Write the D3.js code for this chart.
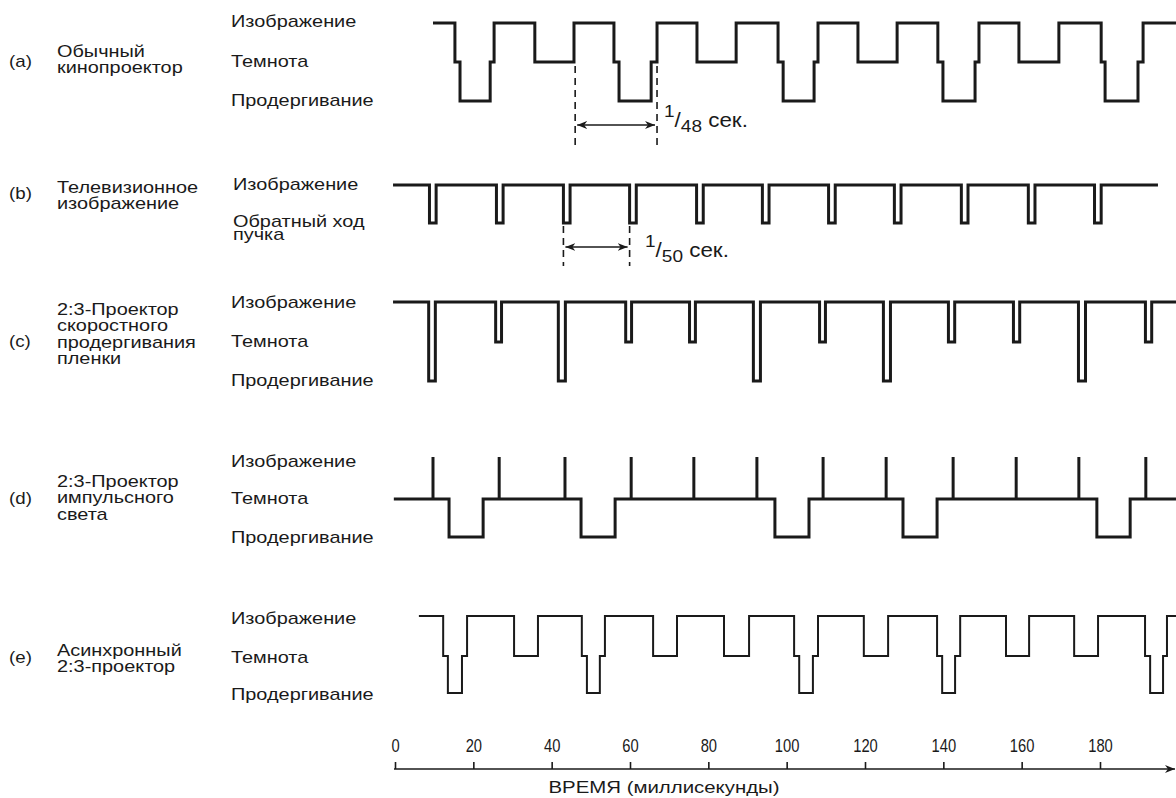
<!DOCTYPE html>
<html><head><meta charset="utf-8">
<script src="https://cdn.jsdelivr.net/npm/d3@7"></script>
<style>
body{margin:0;background:#fff}
text{font-family:"Liberation Sans",Arial,Helvetica,sans-serif;fill:#1a1a1a}
</style>
</head><body>
<svg id="c" width="1176" height="798"></svg>
<script>
// ---------- DATA ----------
const tickValues = [0, 20, 40, 60, 80, 100, 120, 140, 160, 180];
const axisTitle = "ВРЕМЯ (миллисекунды)";
const rowIds = ["(a)", "(b)", "(c)", "(d)", "(e)"];
const rowTitles = [
  ["Обычный", "кинопроектор"],
  ["Телевизионное", "изображение"],
  ["2:3-Проектор", "скоростного", "продергивания", "пленки"],
  ["2:3-Проектор", "импульсного", "света"],
  ["Асинхронный", "2:3-проектор"]
];
const levelNames = [
  ["Продергивание", "Темнота", "Изображение"],
  ["Обратный ход|пучка", "Изображение"],
  ["Продергивание", "Темнота", "Изображение"],
  ["Продергивание", "Темнота", "Изображение"],
  ["Продергивание", "Темнота", "Изображение"]
];
// level codes: 0 = Продергивание / Обратный ход, 1 = Темнота, 2 = Изображение
// (a) conventional projector: change times (ms) and the level held from that time
const aTimes  = [9.7, 15.3, 16.6, 24.3, 25.3, 35.7, 45.7, 55.9, 57.2, 65.4, 66.9, 77.1, 87.1, 97.8, 99.1, 107.0, 108.0, 118.2, 128.2, 138.6, 139.9, 148.1, 149.1, 159.3, 169.5, 180.3, 181.3, 189.7, 191.0, 199.4];
const aLevels = [2, 1, 0, 1, 2, 1, 2, 1, 0, 1, 2, 1, 2, 1, 0, 1, 2, 1, 2, 1, 0, 1, 2, 1, 2, 1, 0, 1, 2, 2];
// (b) television: retrace pulses [start, end] (ms)
const bStart = -0.5, bEnd = 194.8;
const bPulses = [[8.8, 10.5], [25.9, 27.6], [43.0, 44.7], [59.9, 61.6], [77.0, 78.7], [93.8, 95.5], [110.7, 112.4], [127.5, 129.2], [144.6, 146.3], [161.7, 163.4], [178.6, 180.3]];
// (c) 2:3 fast pull-down projector: [start, end, level reached]
const cStart = -0.5, cEnd = 199.4;
const cPulses = [[8.6, 10.3, 0], [25.7, 27.2, 1], [41.7, 43.5, 0], [58.9, 60.4, 1], [75.2, 76.7, 1], [91.5, 93.3, 0], [108.4, 109.9, 1], [124.7, 126.5, 0], [141.3, 142.9, 1], [157.9, 159.5, 1], [174.5, 176.3, 0], [191.6, 193.2, 1]];
// (d) 2:3 pulsed-light projector
const dTimes  = [-0.3, 13.8, 22.5, 47.5, 56.2, 97.0, 105.7, 129.7, 138.4, 179.2, 187.7, 199.4];
const dLevels = [1, 0, 1, 0, 1, 0, 1, 0, 1, 0, 1, 1];
const dFlashes = [9.7, 26.6, 43.4, 60.3, 76.3, 92.4, 109.3, 125.4, 142.5, 158.6, 174.6, 191.7];
// (e) asynchronous 2:3 projector
const eTimes  = [6.1, 12.3, 13.5, 17.1, 18.4, 30.4, 36.5, 47.7, 49.0, 52.3, 53.6, 65.9, 72.0, 84.0, 90.4, 101.9, 103.2, 106.7, 108.0, 119.7, 125.9, 138.4, 139.7, 143.0, 144.3, 156.0, 161.9, 173.4, 179.5, 191.5, 192.8, 196.1, 197.1, 199.4];
const eLevels = [2, 1, 0, 1, 2, 1, 2, 1, 0, 1, 2, 1, 2, 1, 2, 1, 0, 1, 2, 1, 2, 1, 0, 1, 2, 1, 2, 1, 2, 1, 0, 1, 2, 2];
// period annotations
const period48 = {from: 46.0, to: 66.9, label: ["1", "48", " сек."]};
const period50 = {from: 43.0, to: 59.9, label: ["1", "50", " сек."]};

// ---------- LAYOUT ----------
const ink = "#1a1a1a";
const svg = d3.select("#c");
const x = d3.scaleLinear().domain([0, 180]).range([395, 1100]);
const rowY = [[101, 62, 23], [223, 185], [381, 342, 302], [537, 499, 457], [693, 656, 616]];
const rowIdY = [61, 193, 341, 498, 657];
const titleTopY = [51, 187, 309, 481, 650];
const titleStep = 16.4;
const labelY = [[100, 61, 21], [221, 184], [380, 341, 302], [537, 498, 461], [694, 657, 618]];
const FS = 17, SX = 1.17;

function txt(px, py, s, size, sx, anchor) {
  return svg.append("text").attr("transform", `translate(${px},${py}) scale(${sx},1)`)
    .attr("dominant-baseline", "central").attr("text-anchor", anchor || "start")
    .attr("font-size", size).text(s);
}

const defs = svg.append("defs");
defs.append("marker").attr("id", "ah").attr("viewBox", "0 0 10 10").attr("refX", 10).attr("refY", 5)
  .attr("markerWidth", 10).attr("markerHeight", 10).attr("markerUnits", "userSpaceOnUse").attr("orient", "auto-start-reverse")
  .append("path").attr("d", "M0,1 L10,5 L0,9 L3,5 Z").attr("fill", ink);

// ---------- LEFT TEXT ----------
rowIds.forEach((id, i) => {
  txt(9, rowIdY[i], id, 16, SX);
  rowTitles[i].forEach((t, j) => txt(57, titleTopY[i] + j * titleStep, t, FS, SX));
  levelNames[i].forEach((nm, j) => {
    const parts = nm.split("|");
    const lx = i === 1 ? 233 : 231;
    txt(lx, labelY[i][j], parts[0], FS, SX);
    if (parts.length > 1) txt(lx, labelY[i][j] + 13, parts[1], FS, SX);
  });
});

// ---------- WAVEFORMS ----------
const step = d3.line().curve(d3.curveStepAfter);
function drawSteps(times, levels, ys, w) {
  const pts = times.map((t, k) => [x(t), ys[levels[k]]]);
  svg.append("path").attr("d", step(pts)).attr("fill", "none").attr("stroke", ink)
    .attr("stroke-width", w).attr("stroke-linejoin", "miter");
}
function pulsesToSteps(start, end, pulses, top) {
  const t = [start], l = [top];
  pulses.forEach(p => { t.push(p[0]); l.push(p.length > 2 ? p[2] : 0); t.push(p[1]); l.push(top); });
  t.push(end); l.push(top);
  return [t, l];
}
drawSteps(aTimes, aLevels, rowY[0], 3);
{ const [t, l] = pulsesToSteps(bStart, bEnd, bPulses, 1); drawSteps(t, l, rowY[1], 3); }
{ const [t, l] = pulsesToSteps(cStart, cEnd, cPulses, 2); drawSteps(t, l, rowY[2], 3); }
drawSteps(dTimes, dLevels, rowY[3], 3);
svg.append("g").selectAll("line").data(dFlashes).join("line")
  .attr("x1", d => x(d)).attr("x2", d => x(d)).attr("y1", rowY[3][1]).attr("y2", rowY[3][2])
  .attr("stroke", ink).attr("stroke-width", 3);
drawSteps(eTimes, eLevels, rowY[4], 2);

// ---------- PERIOD ANNOTATIONS ----------
function annotate(p, y1, y2, ya, tx, tyBase) {
  [p.from, p.to].forEach(t => svg.append("line").attr("x1", x(t)).attr("x2", x(t)).attr("y1", y1).attr("y2", y2)
    .attr("stroke", ink).attr("stroke-width", 1.6).attr("stroke-dasharray", "7,5"));
  svg.append("line").attr("x1", x(p.from) + 2).attr("x2", x(p.to) - 2).attr("y1", ya).attr("y2", ya)
    .attr("stroke", ink).attr("stroke-width", 1.5).attr("marker-start", "url(#ah)").attr("marker-end", "url(#ah)");
  const t = svg.append("text").attr("transform", `translate(${tx},${tyBase}) scale(1.12,1)`).attr("font-size", 20);
  t.append("tspan").attr("font-size", 17).attr("dy", -10).text(p.label[0]);
  t.append("tspan").attr("dy", 10).text("/");
  t.append("tspan").attr("font-size", 17).attr("dy", 5).text(p.label[1]);
  t.append("tspan").attr("dy", -5).text(p.label[2]);
}
annotate(period48, 66, 146, 125, 664, 127);
annotate(period50, 226, 266, 247, 645, 257);

// ---------- AXIS ----------
const axisY = 769;
const ax = svg.append("g").attr("transform", `translate(0,${axisY})`)
  .call(d3.axisTop(x).tickValues(tickValues).tickSize(7).tickSizeOuter(0).tickPadding(10));
ax.select(".domain").remove();
ax.selectAll(".tick line").attr("stroke", ink).attr("stroke-width", 1.6);
ax.selectAll(".tick text").attr("font-size", 18).attr("font-family", '"Liberation Sans",Arial,sans-serif')
  .attr("fill", ink).attr("transform", "scale(0.82,1)");
svg.append("line").attr("x1", x(0) - 1).attr("x2", 1175).attr("y1", axisY).attr("y2", axisY)
  .attr("stroke", ink).attr("stroke-width", 1.6).attr("marker-end", "url(#ah)");
txt(664, 787, axisTitle, 17, 1.2, "middle");
</script>
</body></html>
